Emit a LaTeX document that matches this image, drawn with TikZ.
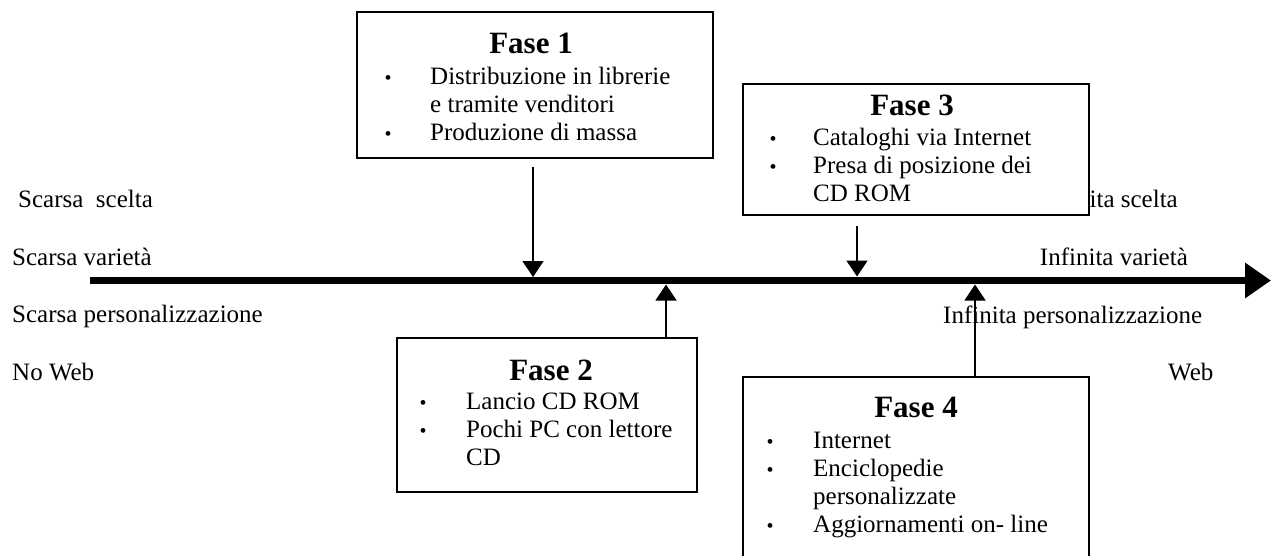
\documentclass[tikz,border=0pt]{standalone}
\usepackage{fontspec}
\setmainfont{Liberation Serif}
\usetikzlibrary{arrows.meta}
\begin{document}
\begin{tikzpicture}[x=1pt,y=-1pt,
  txt/.style={anchor=base west, inner sep=0pt, font=\fontsize{25}{28}\selectfont},
  rtxt/.style={anchor=base east, inner sep=0pt, font=\fontsize{25}{28}\selectfont},
  title/.style={anchor=base, inner sep=0pt, font=\fontsize{31}{34}\selectfont\bfseries},
  dot/.style={anchor=base, inner sep=0pt, font=\fontsize{20}{22}\selectfont},
  phase/.style={draw, line width=1.5pt, fill=white, rectangle, inner sep=0pt},
  pointer/.style={line width=1.5pt, -{Triangle[length=16pt,width=21pt]}},
  axis/.style={line width=7.5pt, -{Triangle[length=26pt,width=34pt]}}]
\useasboundingbox (0,0) rectangle (1271,555);

% labels at both ends of the scale
\node[txt] (ls1) at (18,207) {Scarsa\ \ scelta};
\node[txt] (ls2) at (12,265) {Scarsa varietà};
\node[txt] (ls3) at (12,322) {Scarsa personalizzazione};
\node[txt] (ls4) at (12,380) {No Web};
\node[rtxt] (rs1) at (1178,207) {Infinita scelta};
\node[rtxt] (rs2) at (1188,265) {Infinita varietà};
\node[txt] (rs3) at (943,323) {Infinita personalizzazione};
\node[txt] (rs4) at (1168,380) {Web};

% the scale
\coordinate (axL) at (90,280.5);
\coordinate (axR) at (1271,280.5);
\draw[axis] (axL) -- (axR);

% phase boxes
\node[phase, minimum width=356pt, minimum height=146pt] (f1) at (535,85) {};
\node[phase, minimum width=300pt, minimum height=154pt] (f2) at (547,415) {};
\node[phase, minimum width=346pt, minimum height=131pt] (f3) at (916,149.5) {};
\node[phase, minimum width=346pt, minimum height=193pt] (f4) at (916,473.5) {};

% Fase 1
\node[title] (f1t) at (531,53) {Fase 1};
\node[dot] (f1b1) at (388,84) {•};
\node[txt] (f1l1) at (430,84) {Distribuzione in librerie};
\node[txt] (f1l2) at (430,112) {e tramite venditori};
\node[dot] (f1b2) at (388,140) {•};
\node[txt] (f1l3) at (430,140) {Produzione di massa};

% Fase 2
\node[title] (f2t) at (551,380) {Fase 2};
\node[dot] (f2b1) at (423,409) {•};
\node[txt] (f2l1) at (466,409) {Lancio CD ROM};
\node[dot] (f2b2) at (423,437) {•};
\node[txt] (f2l2) at (466,437) {Pochi PC con lettore};
\node[txt] (f2l3) at (466,465) {CD};

% Fase 3
\node[title] (f3t) at (912,115) {Fase 3};
\node[dot] (f3b1) at (773,145) {•};
\node[txt] (f3l1) at (813,145) {Cataloghi via Internet};
\node[dot] (f3b2) at (773,173) {•};
\node[txt] (f3l2) at (813,173) {Presa di posizione dei};
\node[txt] (f3l3) at (813,201) {CD ROM};

% Fase 4
\node[title] (f4t) at (916,417) {Fase 4};
\node[dot] (f4b1) at (770,448) {•};
\node[txt] (f4l1) at (813,448) {Internet};
\node[dot] (f4b2) at (770,476) {•};
\node[txt] (f4l2) at (813,476) {Enciclopedie};
\node[txt] (f4l3) at (813,504) {personalizzate};
\node[dot] (f4b3) at (770,532) {•};
\node[txt] (f4l4) at (813,532) {Aggiornamenti on- line};

% pointers onto the scale
\coordinate (t1) at (533,277);
\coordinate (t2) at (666,284.5);
\coordinate (t3) at (857,276.5);
\coordinate (t4) at (975,284.5);
\draw[pointer, shorten <=8pt] (f1.south -| t1) -- (t1);
\draw[pointer] (f2.north -| t2) -- (t2);
\draw[pointer, shorten <=10pt] (f3.south -| t3) -- (t3);
\draw[pointer] (f4.north -| t4) -- (t4);
\end{tikzpicture}
\end{document}
